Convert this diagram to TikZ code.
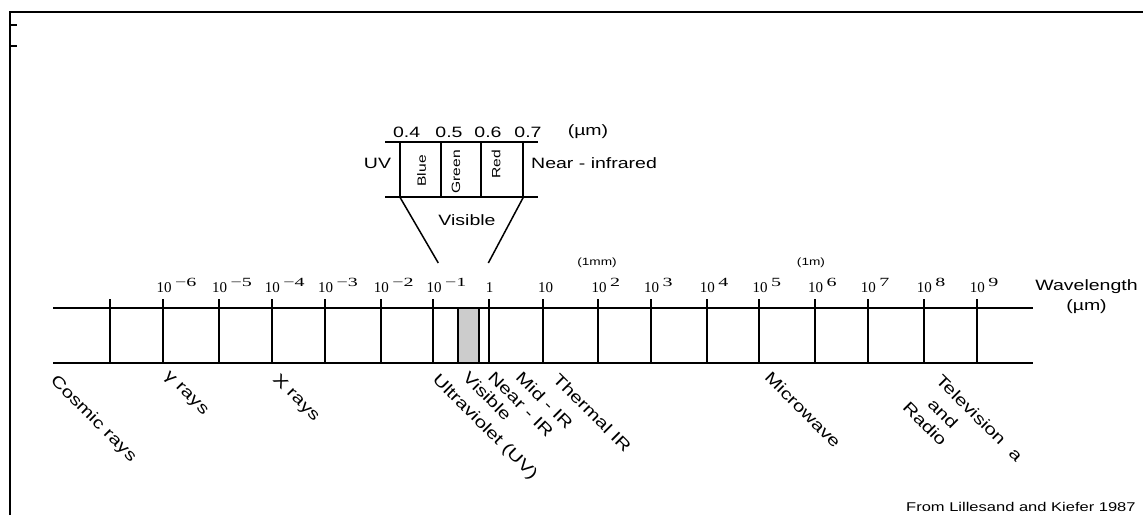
\documentclass[tikz,border=0pt]{standalone}
\usepackage{fontspec}
\setmainfont{Liberation Sans}
\newfontfamily\lblfont[FakeStretch=1.3]{Liberation Sans}
\newfontfamily\serfont{Liberation Serif}
\newfontfamily\supfont[FakeStretch=1.6]{Liberation Serif}
\definecolor{visgray}{gray}{0.8}
\begin{document}
\begin{tikzpicture}[x=1pt,y=-1pt,
  bar/.style={line width=2pt},
  thinline/.style={line width=1.5pt},
  rlab/.style={rotate=-45,anchor=north west,inner sep=0pt,font=\lblfont\fontsize{16}{16}\selectfont},
  lab/.style={inner sep=0pt,font=\lblfont\fontsize{15}{15}\selectfont},
  smalllab/.style={inner sep=0pt,font=\lblfont\fontsize{10.5}{10.5}\selectfont},
  vlab/.style={rotate=90,anchor=east,inner sep=0pt,font=\lblfont\fontsize{12}{12}\selectfont},
  pow/.style={anchor=base west,inner sep=0pt,font=\serfont\fontsize{15}{15}\selectfont}]
\useasboundingbox (0,0) rectangle (1143,515);
% frame
\coordinate (fb) at (9.5,515);
\coordinate (ft) at (9.5,11.5);
\coordinate (fr) at (1143,11.5);
\draw[bar] (fb) -- (ft) -- (fr);
\coordinate (k1a) at (9.5,24.5);  \coordinate (k1b) at (16.5,24.5);
\coordinate (k2a) at (9.5,45.5);  \coordinate (k2b) at (16.5,45.5);
\draw[bar] (k1a) -- (k1b);
\draw[bar] (k2a) -- (k2b);
% visible band
\coordinate (vis1) at (457.7,307.5);
\coordinate (vis2) at (479,363.3);
\filldraw[fill=visgray,line width=1.6pt] (vis1) rectangle (vis2);
% main bar
\coordinate (btl) at (53,307.5);  \coordinate (btr) at (1033,307.5);
\coordinate (bbl) at (53,363.3);  \coordinate (bbr) at (1033,363.3);
\draw[bar] (btl) -- (btr);
\draw[bar] (bbl) -- (bbr);
\foreach \x [count=\i] in {110,163.3,219,271.7,325,380.7,433.3,489.3,542.7,598.3,651,706.7,759.3,815,867.7,923.7,976.7}{
  \coordinate (tt\i) at (\x,299);
  \coordinate (tb\i) at (\x,363.3);
  \draw[bar] (tt\i) -- (tb\i);
}
% power labels
\foreach \x/\e [count=\i] in {163.3/−6,219/−5,271.7/−4,325/−3,380.7/−2,433.3/−1,598.3/2,651/3,706.7/4,759.3/5,815/6,867.7/7,923.7/8,976.7/9}{
  \node[pow] (p\i) at (\x-7,292) {10\hspace{3.5pt}\raisebox{6pt}{\supfont\fontsize{12.5}{12.5}\selectfont\e}};
}
\node[pow,anchor=base] (pone) at (489.5,292) {1};
\node[pow,anchor=base] (pten) at (545.5,292) {10};
\node[smalllab] (mm) at (597,263) {(1mm)};
\node[smalllab] (m) at (811,263) {(1m)};
\node[lab] (wl) at (1086.5,287) {Wavelength};
\node[lab] (wlu) at (1086.5,307) {(µm)};
% inset
\coordinate (it1) at (385,141.7);  \coordinate (it2) at (538,141.7);
\coordinate (ib1) at (385,197.3);  \coordinate (ib2) at (538,197.3);
\draw[bar] (it1) -- (it2);
\draw[bar] (ib1) -- (ib2);
\foreach \x [count=\i] in {400,441,481,523.3}{
  \coordinate (iv\i t) at (\x,141.7);
  \coordinate (iv\i b) at (\x,197.3);
  \draw[bar] (iv\i t) -- (iv\i b);
}
\coordinate (dl) at (438.3,263);
\coordinate (dr) at (488.3,263);
\draw[thinline] (iv1b) -- (dl);
\draw[thinline] (iv4b) -- (dr);
\node[lab] (l04) at (406.7,132) {0.4};
\node[lab] (l05) at (449,132) {0.5};
\node[lab] (l06) at (488,132) {0.6};
\node[lab] (l07) at (528,132) {0.7};
\node[lab] (lum) at (588,132) {(µm)};
\node[lab] (uv) at (377.5,163) {UV};
\node[lab,anchor=west] (nir) at (531,163) {Near - infrared};
\node[lab] (visl) at (467,220) {Visible};
\node[vlab] (blue) at (421.5,155) {Blue};
\node[vlab] (green) at (456,150) {Green};
\node[vlab] (red) at (496,150) {Red};
% region labels
\node[rlab] (cos) at (58,373) {Cosmic rays};
\node[rlab] (gam) at (170,370) {γ rays};
\node[rlab] (xr) at (280,372) {X rays};
\node[rlab] (ultra) at (440,372) {Ultraviolet (UV)};
\node[rlab] (visr) at (470,370) {Visible};
\node[rlab] (near) at (495,370) {Near - IR};
\node[rlab] (mid) at (523,370) {Mid - IR};
\node[rlab] (therm) at (560,372) {Thermal IR};
\node[rlab] (micro) at (772,370) {Microwave};
\node[rlab] (tv) at (943,373) {Television\hspace{12pt}a};
\node[rlab] (tvand) at (935,397) {and};
\node[rlab] (radio) at (910,400) {Radio};
\node[anchor=base west,inner sep=0pt,font=\lblfont\fontsize{12.7}{12.7}\selectfont] (src) at (906,511) {From Lillesand and Kiefer 1987};
\end{tikzpicture}
\end{document}
